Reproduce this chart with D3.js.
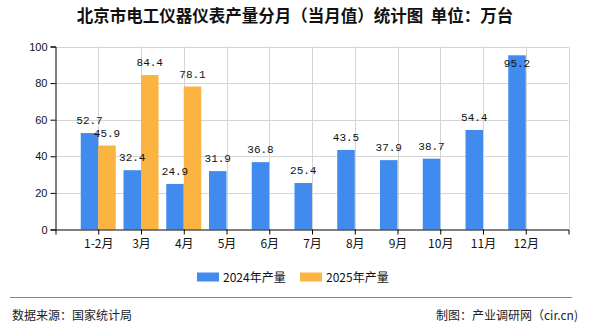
<!DOCTYPE html>
<html><head><meta charset="utf-8">
<script src="https://cdn.jsdelivr.net/npm/d3@7/dist/d3.min.js"></script>
<style>
html,body{margin:0;padding:0;background:#fff;}
svg{display:block;}
</style></head>
<body>
<svg id="chart" width="590" height="330"></svg>
<script>
const categories = ["1-2月","3月","4月","5月","6月","7月","8月","9月","10月","11月","12月"];
const series2024 = [52.7,32.4,24.9,31.9,36.8,25.4,43.5,37.9,38.7,54.4,95.2];
const series2025 = [45.9,84.4,78.1,null,null,null,null,null,null,null,null];
const seriesNames = ["2024年产量","2025年产量"];
const seriesColors = ["#418AEE","#FBB441"];
const yTicks = [0,20,40,60,80,100];
const titleText = "北京市电工仪器仪表产量分月（当月值）统计图 单位：万台";
const sourceText = "数据来源：国家统计局";
const creditText = "制图：产业调研网（cir.cn)";

const svg = d3.select("#chart");
const W = 590, H = 330;
const plot = {left:55.5, right:568.5, top:46.5, bottom:229.5};

const x = d3.scalePoint().domain(categories).range([plot.left, plot.right]).padding(1);
const sub = d3.scaleBand().domain(seriesNames).range([-17.5, 17.5]);
const y = d3.scaleLinear().domain([0,100]).range([plot.bottom, plot.top]);
const color = d3.scaleOrdinal().domain(seriesNames).range(seriesColors);

// title
svg.append("text").attr("x", W/2).attr("y", 22).attr("text-anchor","middle")
  .attr("font-family","'Noto Sans CJK SC', sans-serif").attr("font-size","16.5px")
  .attr("font-weight","bold").attr("fill","#111").attr("xml:space","preserve").text(titleText.replace(" ", "  "));

// grid
const grid = svg.append("g");
grid.selectAll("line.h").data(yTicks.filter(d=>d>0)).join("line")
  .attr("x1", plot.left).attr("x2", plot.right)
  .attr("y1", d=>Math.round(y(d))+0.5).attr("y2", d=>Math.round(y(d))+0.5)
  .attr("stroke","#d4d4d4").attr("stroke-width",1);
const step = x.step();
const vPos = d3.range(1, categories.length + 2).map(i => plot.left + i*step);
grid.selectAll("line.v").data(vPos).join("line")
  .attr("x1", d=>Math.round(d)+0.5).attr("x2", d=>Math.round(d)+0.5)
  .attr("y1", plot.top).attr("y2", plot.bottom)
  .attr("stroke","#d4d4d4").attr("stroke-width",1);

// bars
const rows = categories.map((c,i)=>({cat:c, vals:[series2024[i], series2025[i]]}));
const groups = svg.append("g").selectAll("g").data(rows).join("g")
  .attr("transform", d=>`translate(${x(d.cat)},0)`);
const barData = d => seriesNames.map((s,j)=>({s, v:d.vals[j]})).filter(e=>e.v!=null);
groups.selectAll("rect").data(barData).join("rect")
  .attr("x", d=>sub(d.s)).attr("width", sub.bandwidth())
  .attr("y", d=>y(d.v)).attr("height", d=>y(0)-y(d.v))
  .attr("fill", d=>color(d.s));
groups.selectAll("text").data(barData).join("text")
  .attr("x", d=>sub(d.s)+sub.bandwidth()/2)
  .attr("y", d=>{ const t=y(d.v)-9; return t < plot.top+8 ? y(d.v)+12 : t; })
  .attr("text-anchor","middle")
  .attr("font-family","'Liberation Mono', monospace").attr("font-size","11px")
  .attr("fill","#111").text(d=>d.v.toFixed(1));

// y axis
const yAxis = svg.append("g").attr("transform",`translate(${plot.left},0)`)
  .call(d3.axisLeft(y).tickValues(yTicks).tickSize(5).tickPadding(3).tickFormat(d3.format("d")));
yAxis.select(".domain").attr("stroke","#000");
yAxis.selectAll(".tick line").attr("stroke","#000");
yAxis.selectAll("text").attr("font-family","'Liberation Sans', Arial, sans-serif").attr("font-size","11px").attr("fill","#111");

// x axis
const xAxis = svg.append("g").attr("transform",`translate(0,${plot.bottom})`)
  .call(d3.axisBottom(x).tickSize(5).tickSizeOuter(5).tickPadding(5));
xAxis.select(".domain").attr("stroke","#000");
xAxis.selectAll(".tick line").attr("stroke","#000");
xAxis.selectAll("text").attr("font-family","'Noto Sans CJK SC', sans-serif").attr("font-size","12px").attr("fill","#111");

// legend
const legend = svg.append("g");
const legX = [197, 300];
seriesNames.forEach((s,i)=>{
  legend.append("rect").attr("x", legX[i]).attr("y", 272.5).attr("width", 22).attr("height", 9).attr("fill", color(s));
  legend.append("text").attr("x", legX[i]+26).attr("y", 281.5)
    .attr("font-family","'Noto Sans CJK SC', sans-serif").attr("font-size","12px").attr("fill","#111").text(s);
});

// footer
svg.append("line").attr("x1",10).attr("x2",572).attr("y1",297.5).attr("y2",297.5).attr("stroke","#888").attr("stroke-width",1);
svg.append("text").attr("x",12).attr("y",320).attr("font-family","'Noto Sans CJK SC', sans-serif").attr("font-size","12px").attr("fill","#222").text(sourceText);
svg.append("text").attr("x",578).attr("y",320).attr("text-anchor","end").attr("font-family","'Noto Sans CJK SC', sans-serif").attr("font-size","12px").attr("fill","#222").text(creditText);
</script>
</body></html>
